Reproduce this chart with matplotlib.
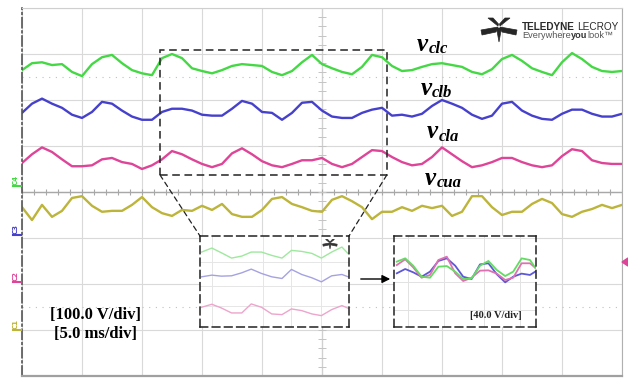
import numpy as np
import matplotlib
matplotlib.use("Agg")
import matplotlib.pyplot as plt
from matplotlib.patches import Rectangle, Polygon, FancyArrowPatch, ConnectionPatch

# capture: 5 ms/div, 100 V/div, one sample every 1/6 div
t_ms = np.linspace(0, 50, 61)

v_clc = [250, 265, 267, 261, 263, 246, 237, 263, 278, 283, 265, 250, 243, 239, 276, 285,
         276, 254, 248, 243, 250, 259, 263, 261, 259, 246, 239, 248, 267, 283, 263, 254,
         246, 241, 257, 283, 278, 259, 248, 250, 257, 263, 265, 261, 257, 246, 241, 252,
         274, 283, 270, 254, 246, 239, 267, 287, 274, 257, 248, 246, 248]
v_clb = [265, 285, 296, 285, 276, 261, 254, 267, 289, 285, 270, 257, 250, 250, 267, 274,
         274, 270, 261, 259, 259, 274, 291, 285, 267, 265, 250, 265, 287, 289, 270, 257,
         254, 254, 265, 272, 276, 259, 261, 257, 263, 280, 293, 285, 276, 261, 252, 259,
         285, 289, 270, 259, 252, 250, 263, 272, 272, 263, 257, 257, 263]
v_cla = [259, 278, 293, 283, 267, 252, 252, 254, 267, 270, 261, 257, 246, 254, 267, 285,
         278, 267, 257, 250, 257, 280, 291, 278, 263, 254, 250, 257, 265, 265, 270, 257,
         250, 257, 272, 287, 285, 272, 261, 254, 257, 272, 293, 278, 263, 250, 254, 261,
         270, 270, 261, 254, 250, 254, 274, 289, 285, 265, 259, 257, 257]
v_cua = [267, 239, 272, 246, 259, 287, 291, 270, 257, 259, 259, 272, 289, 267, 254, 248,
         261, 259, 270, 261, 274, 252, 246, 246, 261, 285, 289, 274, 267, 259, 257, 283,
         291, 280, 267, 241, 257, 257, 267, 259, 270, 265, 270, 248, 257, 291, 291, 267,
         250, 257, 257, 274, 285, 276, 252, 246, 257, 263, 272, 265, 272]

# zoomed window (upper three channels)
zoom_t = [11.7, 13.0, 14.2, 15.5, 16.8, 18.0, 19.3, 20.6, 21.9, 23.1, 24.4, 25.7, 26.9,
          28.2, 29.5, 30.3]
zoom_clc = [246, 258, 244, 228, 234, 246, 246, 236, 228, 251, 248, 242, 228, 246, 261, 241]
zoom_clb = [280, 285, 282, 283, 292, 303, 290, 280, 275, 302, 287, 277, 265, 283, 287, 280]
zoom_cla = [292, 301, 290, 275, 275, 302, 292, 272, 270, 287, 282, 272, 267, 285, 297, 289]

# ripple overlay, 40 V/div
ripple_t = [0.7, 2.8, 4.8, 6.9, 9.0, 11.1, 13.2, 15.3, 17.3, 19.4, 21.5, 23.6, 25.7, 27.8,
            29.8, 31.9, 34.0, 35.3]
ripple_clc = [18.5, 21.5, 14.8, 4.8, 3.9, 13.9, 14.5, 9.4, 2.7, 3.3, 14.8, 19.1, 10.9, 5.4,
              9.4, 21.5, 20.0, 13.0]
ripple_cla = [15.4, 20.6, 13.3, 3.9, 6.4, 20.0, 23.0, 7.9, 0.9, 3.9, 10.3, 10.6, 7.6, 1.8,
              3.9, 17.0, 17.0, 13.0]
ripple_clb = [7.9, 11.8, 8.8, 4.8, 9.4, 19.1, 21.5, 14.8, 4.8, 2.7, 16.0, 17.0, 7.0, -0.3,
              4.8, 7.6, 6.4, 9.4]

# channel ground markers, in divisions from screen centre
offsets = {"C4": 0.15, "C3": -0.93, "C2": -1.96, "C1": -3.0}
colors = {"C4": "#45d845", "C3": "#4641cc", "C2": "#de4598", "C1": "#bdb43a"}
light = {"C4": "#9fe89f", "C3": "#a5a2e2", "C2": "#eda5cc"}
VDIV = 100.0

fig = plt.figure(figsize=(6.28, 3.78), dpi=100)
fig.patch.set_facecolor("white")

W, H = 628.0, 378.0
ax = fig.add_axes([22 / W, 2 / H, 600 / W, 368 / H])
ax.set_xlim(0, 50)
ax.set_ylim(-4, 4)
ax.set_xticks(np.arange(0, 51, 5))
ax.set_yticks(np.arange(-4, 5, 1))
ax.tick_params(length=0, labelbottom=False, labelleft=False)
ax.grid(color="#d9d9d9", linewidth=0.8)
for side, col in [("top", "#cfcfcf"), ("right", "#b0b0b0"), ("bottom", "#a0a0a0")]:
    ax.spines[side].set_color(col)
ax.spines["bottom"].set_linewidth(1.6)
ax.spines["left"].set_color("#555555")
ax.spines["left"].set_linestyle((0, (6, 2, 1, 2)))
ax.spines["left"].set_linewidth(1.2)

# centre axes with minor ticks
ax.axhline(0, color="#a8a8a8", lw=1.0)
ax.axvline(25, color="#d0d0d0", lw=0.9)
ax.vlines(np.arange(0, 50.01, 1), -0.07, 0.07, color="#a8a8a8", lw=0.8)
ax.hlines(np.arange(-4, 4.01, 0.2), 24.7, 25.3, color="#c4c4c4", lw=0.7)
for yy in (2.5, -2.5):
    ax.axhline(yy, color="#c0c0c0", lw=0.8, ls=(0, (1, 5)))

traces = [("C4", v_clc), ("C3", v_clb), ("C2", v_cla), ("C1", v_cua)]
for ch, vals in traces:
    ax.plot(t_ms, offsets[ch] + np.array(vals) / VDIV, color=colors[ch], lw=1.7,
            solid_joinstyle="round", solid_capstyle="round")

# trace names
serif = "Liberation Serif"
names = [("clc", 32.9, 3.07), ("clb", 33.2, 2.11), ("cla", 33.75, 1.17), ("cua", 33.6, 0.15)]
for sub, tx, ty in names:
    vt = ax.text(tx, ty, "v", family=serif, weight="bold", style="italic", fontsize=18,
                 va="baseline")
    ax.annotate(sub, xy=(1, 0), xycoords=vt, xytext=(0.5, -1), textcoords="offset points",
                family=serif, weight="bold", style="italic", fontsize=12, va="bottom")

ax.text(6.1, -2.67, "[100.0 V/div]", family=serif, weight="bold", fontsize=12,
        ha="center", va="center")
ax.text(6.1, -3.09, "[5.0 ms/div]", family=serif, weight="bold", fontsize=12,
        ha="center", va="center")

# zoom window on the main screen
box_t0, box_t1, box_y0, box_y1 = 11.5, 30.4, 0.37, 3.09
ax.add_patch(Rectangle((box_t0, box_y0), box_t1 - box_t0, box_y1 - box_y0, fill=False,
                       ec="#222222", lw=1.1, ls=(0, (5, 3)), zorder=5))

ins = fig.add_axes([200 / W, 51 / H, 149 / W, 91 / H])
ins.set_xlim(box_t0, box_t1)
ins.set_ylim(box_y0, box_y1)
ins.set_xticks([13.0, 19.5, 23.0, 26.9])
ins.set_yticks([1.0, 1.6, 2.3])
ins.tick_params(length=0, labelbottom=False, labelleft=False)
ins.grid(color="#e6e6e6", lw=0.7)
for ch, vals in [("C4", zoom_clc), ("C3", zoom_clb), ("C2", zoom_cla)]:
    ins.plot(zoom_t, offsets[ch] + np.array(vals) / VDIV, color=light[ch], lw=1.0)
for sp in ins.spines.values():
    sp.set_linestyle((0, (5, 3)))
    sp.set_color("#222222")
    sp.set_linewidth(1.1)

for xa, xb in [((box_t0, box_y0), (0, 1)), ((box_t1, box_y0), (1, 1))]:
    fig.add_artist(ConnectionPatch(xyA=xa, coordsA=ax.transData, xyB=xb,
                                   coordsB=ins.transAxes, color="#222222", lw=0.9,
                                   ls=(0, (4, 3))))

rip = fig.add_axes([394 / W, 51 / H, 142 / W, 91 / H])
rip.set_xlim(0, 35.5)
rip.set_ylim(-40.9, 41.8)
rip.set_xticks([3.5, 12.5, 22.5, 31.5])
rip.set_yticks([-25, 0, 40])
rip.tick_params(length=0, labelbottom=False, labelleft=False)
rip.grid(color="#e2e2e2", lw=0.7)
rip.plot(ripple_t, ripple_clb, color="#5c58d6", lw=1.3)
rip.plot(ripple_t, ripple_cla, color="#e070b2", lw=1.3)
rip.plot(ripple_t, ripple_clc, color="#62dc62", lw=1.3)
for sp in rip.spines.values():
    sp.set_linestyle((0, (5, 3)))
    sp.set_color("#222222")
    sp.set_linewidth(1.1)
rip.text(0.9, 0.13, "[40.0 V/div]", transform=rip.transAxes, family=serif, weight="bold",
         fontsize=7.5, ha="right", va="center", color="#222222")

fig.add_artist(FancyArrowPatch((358 / W, 1 - 279 / H), (393 / W, 1 - 279 / H),
                               transform=fig.transFigure, arrowstyle="-|>",
                               mutation_scale=12, color="black", lw=1.0))


# scope logo: offsets in pixels, y pointing down
def emblem(cx, cy, s, color):
    parts = [
        [(-1, 0), (-18, 3), (-17, 8), (-3, 5)],
        [(1, 0), (18, 3), (17, 8), (3, 5)],
        [(-2.5, 1), (2.5, 1), (0, 15)],
        [(-1, -1), (-11, -9), (-6, -9), (-0.5, -3)],
        [(1, -1), (11, -9), (6, -9), (0.5, -3)],
    ]
    for pts in parts:
        xy = [((cx + s * px) / W, 1 - (cy + s * py) / H) for px, py in pts]
        fig.add_artist(Polygon(xy, closed=True, transform=fig.transFigure, fc=color,
                               ec=color, lw=0.5))


emblem(499, 27, 1.0, "#262626")
emblem(330, 243, 0.4, "#333333")

sans = ["Liberation Sans", "DejaVu Sans"]
t1 = fig.text(522 / W, 1 - 30 / H, "TELEDYNE", family=sans, weight="bold", fontsize=7.2,
              color="#2a2a2a", va="baseline")
fig.add_artist(plt.Annotation("LECROY", xy=(1, 0), xycoords=t1, xytext=(1.5, 0),
                              textcoords="offset points", family=sans, fontsize=7.2,
                              color="#2a2a2a", va="bottom"))
e1 = fig.text(522 / W, 1 - 38 / H, "Everywhere", family=sans, fontsize=6.6,
              color="#555555", va="baseline")
e2 = fig.add_artist(plt.Annotation("you", xy=(1, 0), xycoords=e1, xytext=(0, 0),
                                   textcoords="offset points", family=sans,
                                   weight="bold", fontsize=6.6, color="#333333",
                                   va="bottom"))
fig.add_artist(plt.Annotation("look\u2122", xy=(1, 0), xycoords=e2, xytext=(0, 0),
                              textcoords="offset points", family=sans, fontsize=6.6,
                              color="#555555", va="bottom"))

# channel tags on the left edge
for ch, ypx in [("C4", 180), ("C3", 229), ("C2", 276), ("C1", 324)]:
    fig.text(16 / W, 1 - ypx / H, ch, rotation=90, fontsize=5, color=colors[ch],
             ha="center", va="center", weight="bold")
    fig.add_artist(plt.Line2D([13 / W, 21 / W], [1 - (ypx + 6) / H] * 2,
                              transform=fig.transFigure, color=colors[ch], lw=1.5))

# trigger level marker
fig.add_artist(Polygon([(622 / W, 1 - 262 / H), (628 / W, 1 - 258 / H),
                        (628 / W, 1 - 266 / H)], closed=True, transform=fig.transFigure,
                       fc="#de4598", ec="#de4598"))

fig.savefig("out.png", dpi=100)
